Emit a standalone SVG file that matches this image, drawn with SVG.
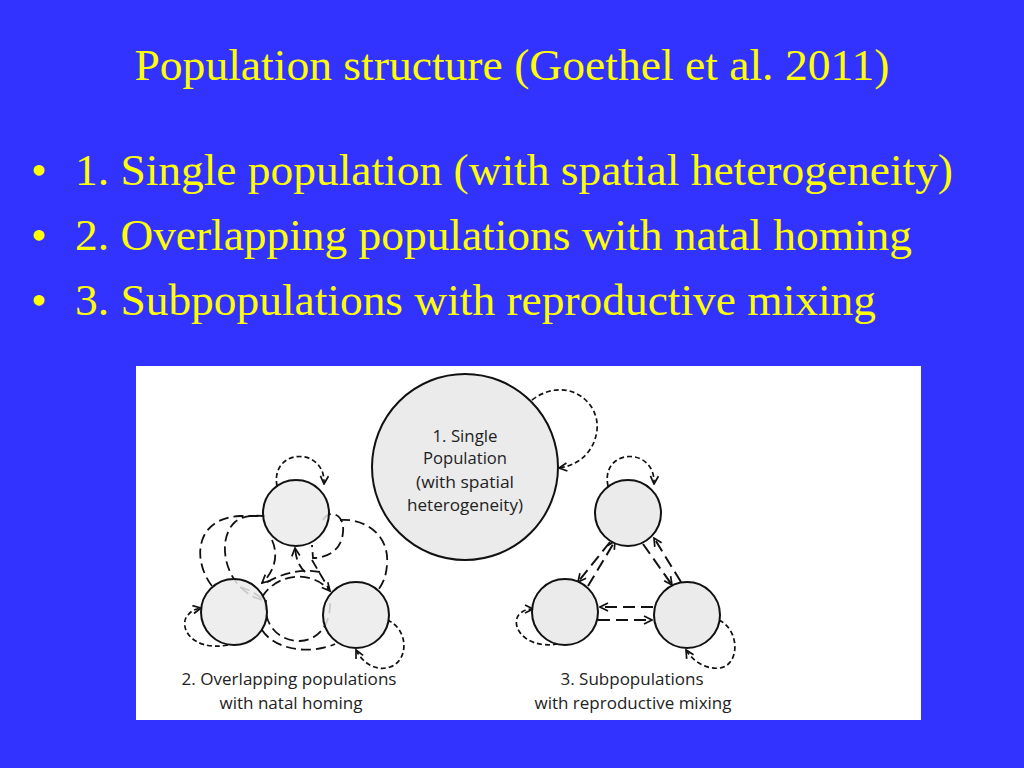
<svg xmlns="http://www.w3.org/2000/svg" width="1024" height="768" viewBox="0 0 1024 768">
<style>
.slide{font-family:"Liberation Serif","Times New Roman",serif;fill:#ffff00;font-size:45px}
.lbl{font-family:"Open Sans","Liberation Sans",sans-serif;fill:#222;font-size:16px;text-anchor:middle}
.pop{fill:#ebebeb;stroke:#111;stroke-width:2}
.self{fill:none;stroke:#111;stroke-width:1.7;stroke-dasharray:5 3}
.long{fill:none;stroke:#111;stroke-width:1.8;stroke-dasharray:10 5}
.dbl{fill:none;stroke:#111;stroke-width:2;stroke-dasharray:12 6}
</style>
<defs>
<marker id="ah" viewBox="0 0 10 10" refX="9" refY="5" markerWidth="10" markerHeight="10" markerUnits="userSpaceOnUse" orient="auto">
<path d="M1,1 L9,5 L1,9" fill="none" stroke="#111" stroke-width="1.7" stroke-dasharray="none"/>
</marker>
</defs>
<rect width="1024" height="768" fill="#3333ff"/>
<text class="slide" x="512" y="80" text-anchor="middle" textLength="755" lengthAdjust="spacingAndGlyphs">Population structure (Goethel et al. 2011)</text>
<g class="slide">
<text x="31" y="185">•</text>
<text x="75" y="185" textLength="878" lengthAdjust="spacingAndGlyphs">1. Single population (with spatial heterogeneity)</text>
<text x="31" y="250">•</text>
<text x="75" y="250" textLength="837" lengthAdjust="spacingAndGlyphs">2. Overlapping populations with natal homing</text>
<text x="31" y="315">•</text>
<text x="75" y="315" textLength="801" lengthAdjust="spacingAndGlyphs">3. Subpopulations with reproductive mixing</text>
</g>
<rect x="136" y="366" width="785" height="354" fill="#ffffff"/>

<g id="connectors">
<!-- big single population self loop -->
<path class="self" d="M532,400 C565,375 600,400 597,430 C594,455 575,466 559,468" marker-end="url(#ah)"/>
<!-- cluster 2 self loops -->
<path class="self" d="M277,486 C270,448 326,446 324,484" marker-end="url(#ah)"/>
<path class="self" d="M228,645 C190,652 178,625 188,615 C192,610 196,609 201,608" marker-end="url(#ah)"/>
<path class="self" d="M387,620 C408,628 410,660 390,667 C375,672 362,662 356,650" marker-end="url(#ah)"/>
<!-- cluster 2 overlapping loops -->
<path class="long" d="M212,586 C192,560 195,518 240,516 L265,516"/>
<path class="long" d="M262,600 C225,590 215,540 235,522 C242,516 252,515 263,516"/>
<path class="long" d="M272,540 C280,558 272,574 262,583" marker-end="url(#ah)"/>
<path class="long" d="M320,572 C300,568 280,574 264,584"/>
<path class="long" d="M305,572 C298,565 296,558 295,548" marker-end="url(#ah)"/>
<path class="long" d="M262,597 C278,572 312,570 330,591" marker-end="url(#ah)"/>
<path class="long" d="M312,560 L329,589"/>
<path class="long" d="M323,520 C330,508 345,515 343,532 C342,548 330,558 313,558 L312,545"/>
<path class="long" d="M340,520 C365,518 390,535 387,565 C386,578 382,585 378,590"/>
<path class="long" d="M266,600 C262,630 285,642 300,641 C318,640 332,625 330,598"/>
<path class="long" d="M262,630 C275,650 310,655 335,644"/>
<path class="long" d="M240,587 C250,590 257,594 263,600"/>
<!-- cluster 3 self loops -->
<path class="self" d="M608,486 C600,448 656,446 654,484" marker-end="url(#ah)"/>
<path class="self" d="M558,644 C520,650 508,620 522,612 C526,609 530,609 533,609" marker-end="url(#ah)"/>
<path class="self" d="M719,620 C740,630 740,665 720,668 C705,670 692,660 686,650" marker-end="url(#ah)"/>
<!-- cluster 3 double arrows -->
<path class="dbl" d="M610,542 L578,582" marker-end="url(#ah)"/>
<path class="dbl" d="M588,586 L615,541" marker-end="url(#ah)"/>
<path class="dbl" d="M643,544 L672,585" marker-end="url(#ah)"/>
<path class="dbl" d="M681,582 L654,538" marker-end="url(#ah)"/>
<path class="dbl" d="M653,607 L600,607" marker-end="url(#ah)"/>
<path class="dbl" d="M598,620 L652,620" marker-end="url(#ah)"/>
</g>

<g id="single-population">
<circle class="pop" cx="465" cy="467" r="93"/>
<text class="lbl" x="465" y="442" textLength="65" lengthAdjust="spacingAndGlyphs">1. Single</text>
<text class="lbl" x="465" y="464" textLength="84" lengthAdjust="spacingAndGlyphs">Population</text>
<text class="lbl" x="465" y="488" textLength="98" lengthAdjust="spacingAndGlyphs">(with spatial</text>
<text class="lbl" x="465" y="511" textLength="116" lengthAdjust="spacingAndGlyphs">heterogeneity)</text>
</g>
<g id="overlap-top"><circle class="pop" cx="296" cy="513" r="33" fill-opacity="0.85"/></g>
<g id="overlap-left"><circle class="pop" cx="234" cy="612" r="33" fill-opacity="0.85"/></g>
<g id="overlap-right"><circle class="pop" cx="356" cy="615" r="33" fill-opacity="0.85"/></g>
<g id="overlap-label">
<text class="lbl" x="289" y="685" textLength="215" lengthAdjust="spacingAndGlyphs">2. Overlapping populations</text>
<text class="lbl" x="291" y="709" textLength="143" lengthAdjust="spacingAndGlyphs">with natal homing</text>
</g>
<g id="sub-top"><circle class="pop" cx="628" cy="513" r="33"/></g>
<g id="sub-left"><circle class="pop" cx="565" cy="612" r="33"/></g>
<g id="sub-right"><circle class="pop" cx="687" cy="615" r="33"/></g>
<g id="sub-label">
<text class="lbl" x="632" y="685" textLength="143" lengthAdjust="spacingAndGlyphs">3. Subpopulations</text>
<text class="lbl" x="633" y="709" textLength="197" lengthAdjust="spacingAndGlyphs">with reproductive mixing</text>
</g>
</svg>
